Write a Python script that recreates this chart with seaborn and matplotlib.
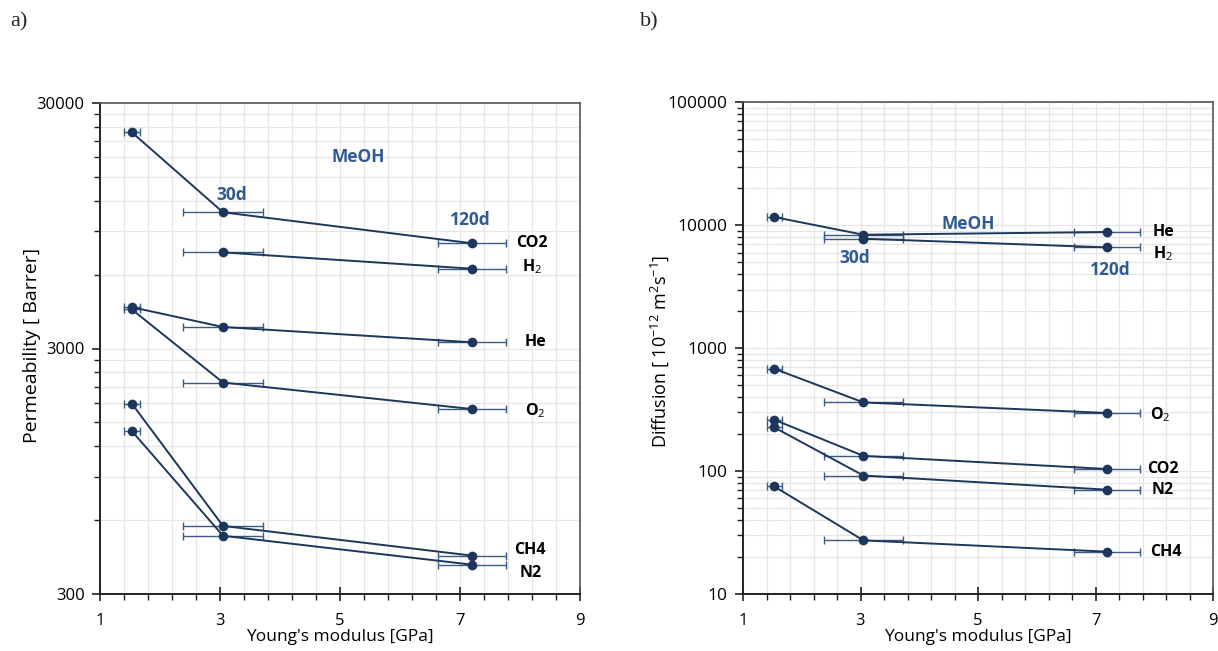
import numpy as np
import pandas as pd
import matplotlib
matplotlib.use("Agg")
import matplotlib.pyplot as plt
import seaborn as sns
from matplotlib.ticker import FixedLocator, NullFormatter, FixedFormatter

# ---------------- data ----------------
modulus = [1.53, 3.05, 7.2]          # GPa (as cast, 30d, 120d)
modulus_err = [0.13, 0.67, 0.56]

# Permeability [Barrer]
perm_gases = ["CO2", "H2", "He", "O2", "CH4", "N2"]
perm_CO2 = [22800, 10760, 8050]
perm_H2 = [np.nan, 7390, 6340]
perm_He = [4420, 3670, 3180]
perm_O2 = [4330, 2180, 1700]
perm_CH4 = [1790, 568, 430]
perm_N2 = [1384, 518, 395]

# Diffusion [1e-12 m2/s]
diff_gases = ["He", "H2", "O2", "CO2", "N2", "CH4"]
diff_He = [11680, 8380, 8820]
diff_H2 = [np.nan, 7780, 6610]
diff_O2 = [681, 362, 297]
diff_CO2 = [262, 133, 104]
diff_N2 = [227, 92, 70.6]
diff_CH4 = [75.1, 27.3, 22.1]

perm_labels = ["CO2", "H$_2$", "He", "O$_2$", "CH4", "N2"]
diff_labels = ["He", "H$_2$", "O$_2$", "CO2", "N2", "CH4"]

x_ticks = [1, 3, 5, 7, 9]

# ---------------- build tables ----------------
def long_table(gases, series):
    rows = []
    for g, vals in zip(gases, series):
        for x, xe, v in zip(modulus, modulus_err, vals):
            if not np.isnan(v):
                rows.append({"gas": g, "E": x, "Eerr": xe, "val": v})
    return pd.DataFrame(rows)

perm_df = long_table(perm_gases, [perm_CO2, perm_H2, perm_He, perm_O2, perm_CH4, perm_N2])
diff_df = long_table(diff_gases, [diff_He, diff_H2, diff_O2, diff_CO2, diff_N2, diff_CH4])

# ---------------- style ----------------
sns.set_theme(style="white")
plt.rcParams["font.family"] = ["Open Sans", "DejaVu Sans"]
plt.rcParams["mathtext.fontset"] = "custom"
plt.rcParams["mathtext.rm"] = "Open Sans"
plt.rcParams["mathtext.bf"] = "Open Sans:bold"

LINE = "#1c365c"
ERR = "#3b5a84"
BLUE = "#2f5a92"
GRID = "#e6e6e6"

fig = plt.figure(figsize=(12.18, 6.51), dpi=100)
axL = fig.add_axes([100 / 1218, 57 / 651, 480 / 1218, 491 / 651])
axR = fig.add_axes([743 / 1218, 57 / 651, 470 / 1218, 491.6 / 651])


def draw(ax, df, gases):
    for g in gases:
        sub = df[df.gas == g]
        ax.errorbar(sub.E, sub.val, xerr=sub.Eerr, fmt="none", ecolor=ERR,
                    elinewidth=1.0, capsize=3, capthick=1.0, zorder=2)
    sns.lineplot(data=df, x="E", y="val", hue="gas", palette=[LINE] * len(gases),
                 hue_order=gases, estimator=None, sort=False, marker="o",
                 markersize=7, markeredgewidth=0, linewidth=1.4, legend=False,
                 ax=ax, zorder=3)


def style_axes(ax, ymin, ymax, majors, minors, ylab_size):
    ax.set_yscale("log")
    ax.set_xlim(1, 9)
    ax.set_ylim(ymin, ymax)
    ax.xaxis.set_major_locator(FixedLocator(x_ticks))
    ax.xaxis.set_minor_locator(FixedLocator(np.arange(1, 9.01, 0.4)))
    ax.set_xticklabels([str(t) for t in x_ticks])
    ax.yaxis.set_major_locator(FixedLocator(majors))
    ax.yaxis.set_major_formatter(FixedFormatter([str(int(m)) for m in majors]))
    ax.yaxis.set_minor_locator(FixedLocator(minors))
    ax.yaxis.set_minor_formatter(NullFormatter())
    ax.grid(True, which="both", color=GRID, linewidth=0.9, zorder=0)
    ax.set_axisbelow(True)
    for s in ["left", "bottom"]:
        ax.spines[s].set_color("#222222")
        ax.spines[s].set_linewidth(1.4)
    for s in ["top", "right"]:
        ax.spines[s].set_color("#555555")
        ax.spines[s].set_linewidth(1.2)
    ax.tick_params(axis="x", which="major", direction="inout", length=10, width=1.2,
                   color="#222222", labelsize=12, labelcolor="black", pad=9)
    ax.tick_params(axis="x", which="minor", direction="out", length=4, width=1.0,
                   color="#222222")
    ax.tick_params(axis="y", which="major", direction="out", length=6, width=1.2,
                   color="#222222", labelsize=ylab_size, labelcolor="black", pad=5)
    ax.tick_params(axis="y", which="minor", direction="out", length=4, width=1.0,
                   color="#222222")
    ax.tick_params(left=True, bottom=True, which="both")
    ax.set_xlabel("Young's modulus [GPa]", fontsize=12.5, color="black")
    ax.xaxis.set_label_coords(0.5, -0.071)


draw(axL, perm_df, perm_gases)
style_axes(axL, 300, 30000, [300, 3000, 30000],
           [k * 300 for k in range(2, 10)] + [k * 3000 for k in range(2, 10)], 12)
axL.set_ylabel("Permeability [ Barrer]", fontsize=14, color="black")
axL.yaxis.set_label_coords(-0.122, 0.507)

draw(axR, diff_df, diff_gases)
style_axes(axR, 10, 100000, [10, 100, 1000, 10000, 100000],
           [k * 10 ** d for d in range(1, 5) for k in range(2, 10)], 12.5)
axR.set_ylabel("Diffusion [ 10$^{-12}$ m$^2$s$^{-1}$]", fontsize=13, color="black")
axR.yaxis.set_label_coords(-0.153, 0.494)

# ---------------- annotations ----------------
FS = 11.5
FSB = 12.5
# left panel
axL.text(5.3, 18070, "MeOH", color=BLUE, fontsize=FSB, fontweight="bold", ha="center", va="center")
axL.text(3.2, 12650, "30d", color=BLUE, fontsize=FSB, fontweight="bold", ha="center", va="center")
axL.text(7.17, 10000, "120d", color=BLUE, fontsize=FSB, fontweight="bold", ha="center", va="center")
perm_lab_y = [8050, 6450, 3180, 1680, 455, 364]
perm_lab_x = [8.2, 8.2, 8.25, 8.25, 8.17, 8.17]
for lab, lx, ly in zip(perm_labels, perm_lab_x, perm_lab_y):
    axL.text(lx, ly, lab, color="black", fontsize=FS, fontweight="bold", ha="center", va="center")

# right panel
axR.text(4.83, 10300, "MeOH", color=BLUE, fontsize=FSB, fontweight="bold", ha="center", va="center")
axR.text(2.9, 5450, "30d", color=BLUE, fontsize=FSB, fontweight="bold", ha="center", va="center")
axR.text(7.25, 4350, "120d", color=BLUE, fontsize=FSB, fontweight="bold", ha="center", va="center")
diff_lab_y = [8800, 5900, 290, 104, 70.6, 22.1]
diff_lab_x = [8.15, 8.15, 8.1, 8.15, 8.15, 8.2]
for lab, lx, ly in zip(diff_labels, diff_lab_x, diff_lab_y):
    axR.text(lx, ly, lab, color="black", fontsize=FS, fontweight="bold", ha="center", va="center")

fig.text(10 / 1218, 1 - 22 / 651, "a)", family=["Liberation Serif"], fontsize=16, va="center", ha="left")
fig.text(640 / 1218, 1 - 22 / 651, "b)", family=["Liberation Serif"], fontsize=16, va="center", ha="left")

fig.savefig("out.png", dpi=100)
